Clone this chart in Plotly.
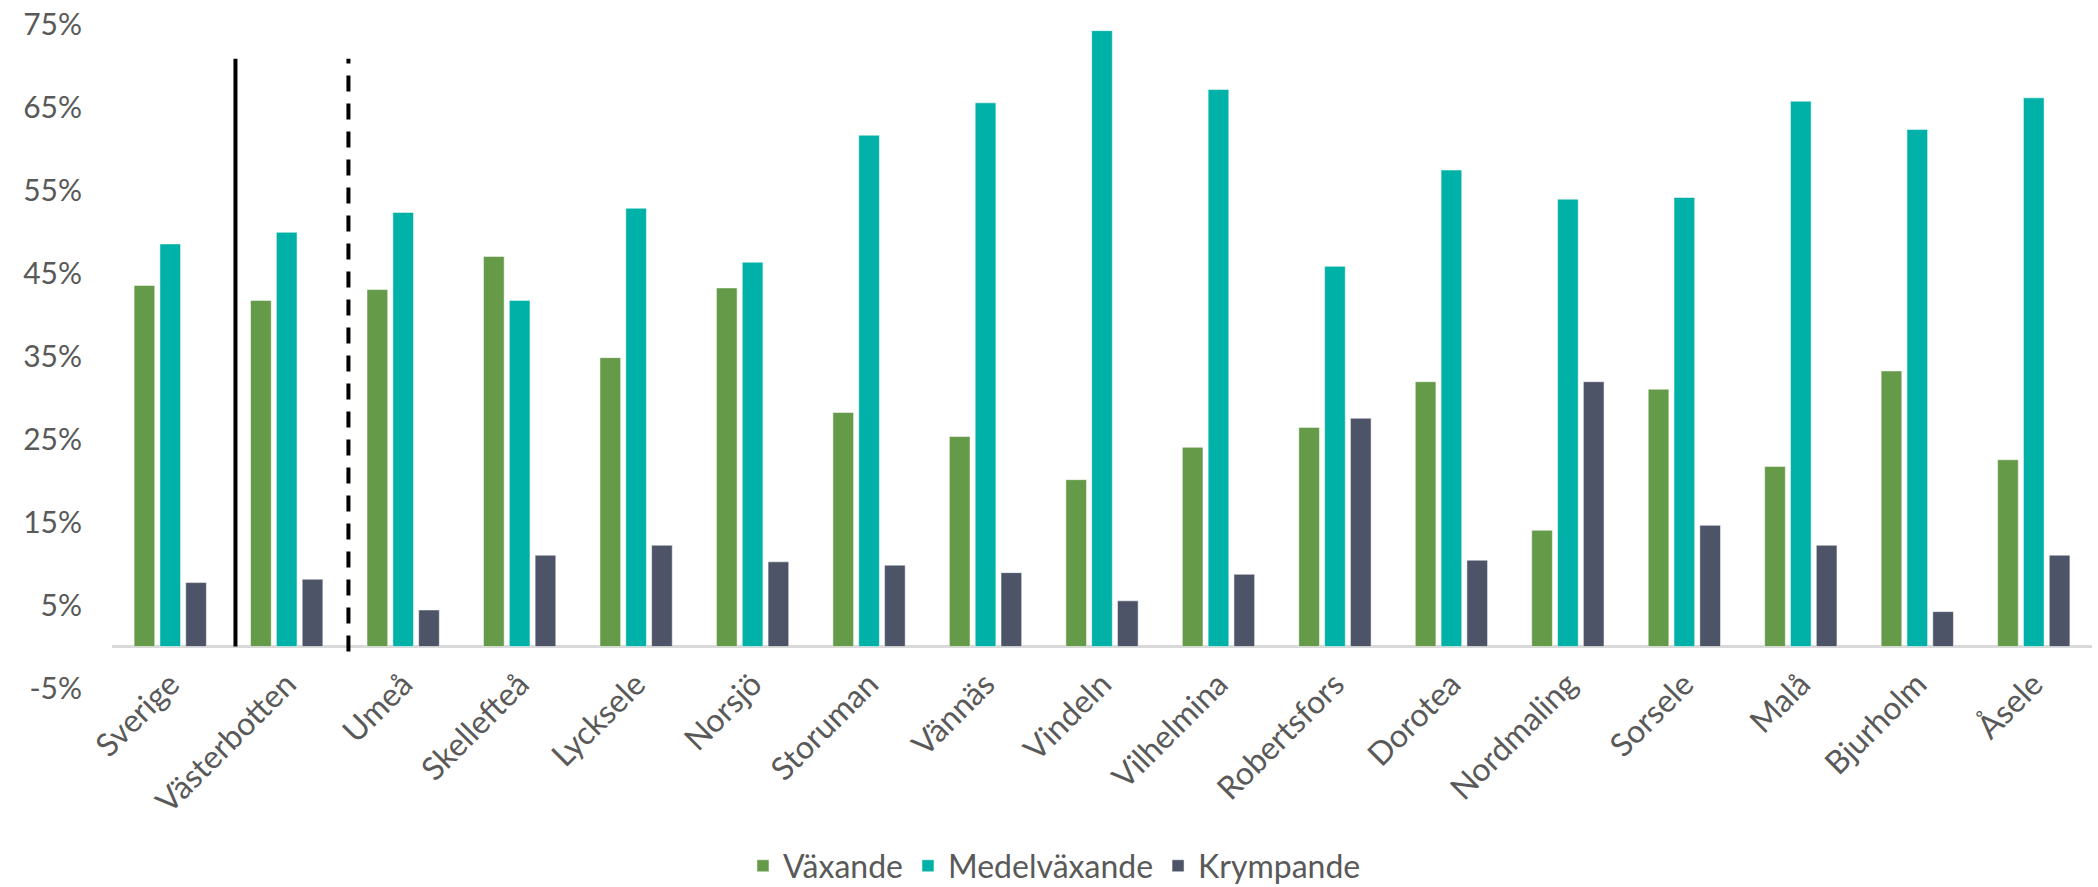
import plotly.graph_objects as go

categories = ["Sverige", "Västerbotten", "Umeå", "Skellefteå", "Lycksele", "Norsjö",
              "Storuman", "Vännäs", "Vindeln", "Vilhelmina", "Robertsfors", "Dorotea",
              "Nordmaling", "Sorsele", "Malå", "Bjurholm", "Åsele"]
vaxande = [43.5, 41.7, 43.0, 47.0, 34.8, 43.2, 28.2, 25.3, 20.1, 24.0, 26.4, 31.9,
           14.0, 31.0, 21.7, 33.2, 22.5]
medelvaxande = [48.5, 49.9, 52.3, 41.7, 52.8, 46.3, 61.6, 65.5, 74.2, 67.1, 45.8, 57.4,
                53.9, 54.1, 65.7, 62.3, 66.1]
krympande = [7.7, 8.1, 4.4, 11.0, 12.2, 10.2, 9.8, 8.9, 5.5, 8.7, 27.5, 10.4,
             31.9, 14.6, 12.2, 4.2, 11.0]
series_names = ["Växande", "Medelväxande", "Krympande"]
colors = ["#649a48", "#00b1a7", "#4e5468"]
y_ticks = [-5, 5, 15, 25, 35, 45, 55, 65, 75]
y_tick_labels = [f"{v}%" for v in y_ticks]

font_family = "Lato, 'Noto Sans', sans-serif"
text_color = "#595959"

fig = go.Figure()
for name, vals, col in zip(series_names, [vaxande, medelvaxande, krympande], colors):
    fig.add_trace(go.Bar(
        x=categories, y=vals, name=name,
        marker=dict(color=col, line=dict(color="rgba(255,255,255,0.5)", width=1)),
    ))

# separator lines
fig.add_shape(type="line", xref="x", yref="y", x0=0.56, x1=0.56, y0=0, y1=70.8,
              line=dict(color="black", width=4))
fig.add_shape(type="line", xref="x", yref="y", x0=1.53, x1=1.53, y0=-0.6, y1=70.8,
              line=dict(color="black", width=4, dash="16px,12px"))

fig.update_layout(
    width=2098, height=887,
    margin=dict(l=112, r=6, t=24, b=199, autoexpand=False),
    paper_bgcolor="white", plot_bgcolor="white",
    barmode="group", bargap=0.335, bargroupgap=0.2,
    font=dict(family=font_family, color=text_color, size=30),
    showlegend=True,
    legend=dict(orientation="h", x=0.476, xanchor="center", y=-0.268, yanchor="middle",
                font=dict(size=32, color=text_color), itemwidth=30,
                traceorder="normal"),
    xaxis=dict(
        type="category", tickangle=-45, showgrid=False, showline=False, ticks="",
        tickfont=dict(size=32, color=text_color), automargin=False,
        anchor="free", position=0.045,
    ),
    yaxis=dict(
        range=[-5, 75], tickvals=y_ticks, ticktext=y_tick_labels,
        showgrid=False, showline=False, ticks="", automargin=False,
        zeroline=True, zerolinecolor="#d9d9d9", zerolinewidth=2.5,
        tickfont=dict(size=30, color=text_color),
        ticklabelstandoff=29,
        domain=[0, 1],
    ),
)

fig.write_html("out.html", config={"displayModeBar": False},
               post_script="document.body.style.margin='0';")
